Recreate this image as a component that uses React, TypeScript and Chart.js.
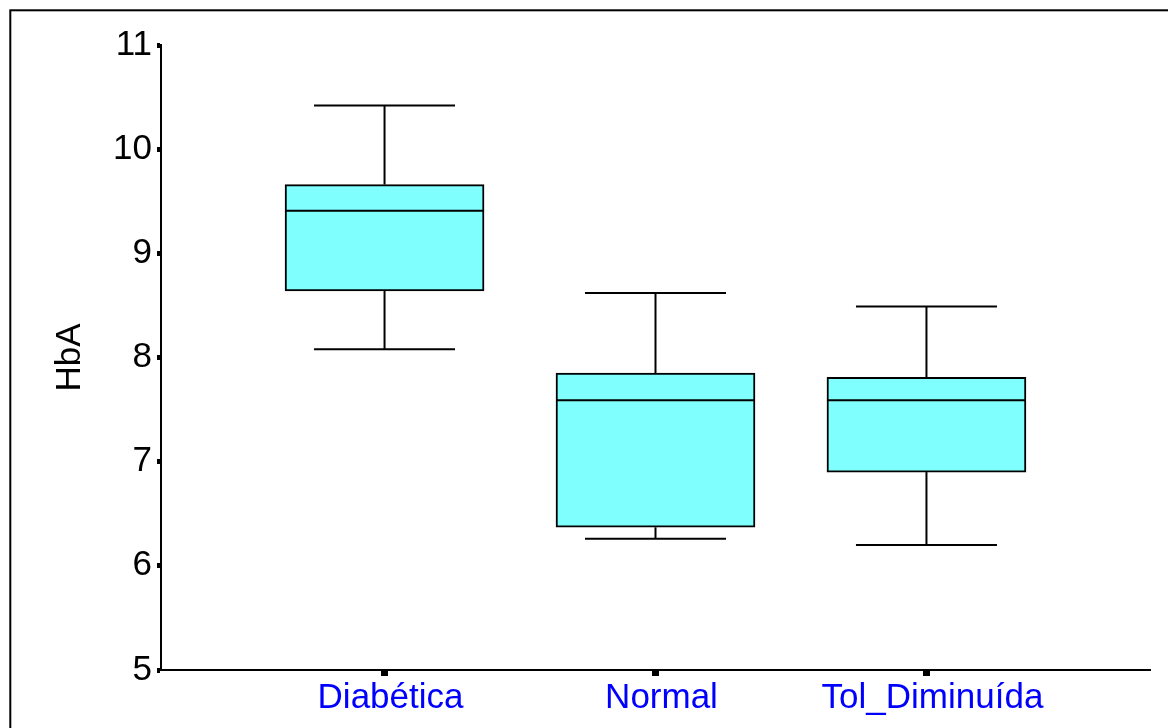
import React, { useEffect, useRef } from "react";
import { Chart, registerables } from "chart.js";

Chart.register(...registerables);

// ---- Data ----
const categories = ["Diabética", "Normal", "Tol_Diminuída"];
const positions = [1, 2, 3];
const whiskerLow = [8.08, 6.26, 6.2];
const q1 = [8.64, 6.37, 6.9];
const median = [9.41, 7.59, 7.59];
const q3 = [9.66, 7.85, 7.81];
const whiskerHigh = [10.42, 8.62, 8.49];
const yMin = 5;
const yMax = 11;
const yTitle = "HbA";

// ---- Styles ----
const FONT = "'Liberation Sans', Arial, Helvetica, sans-serif";
const FONT_SIZE = 35;
const BOX_FILL = "#80FFFF";
const BOX_WIDTH = 199;
const CAP_HALF = 70.5;

const boxExtras = {
  id: "boxExtras",
  beforeDraw(chart: any) {
    const { ctx, width, height } = chart;
    ctx.save();
    ctx.fillStyle = "#ffffff";
    ctx.fillRect(0, 0, width, height);
    ctx.strokeStyle = "#000000";
    ctx.lineWidth = 2;
    ctx.strokeRect(10.3, 10.3, width + 100, height + 100);
    ctx.restore();
  },
  afterDatasetsDraw(chart: any) {
    const { ctx } = chart;
    const x = chart.scales.x;
    const y = chart.scales.y;
    ctx.save();
    ctx.strokeStyle = "#000000";
    ctx.lineWidth = 2;
    const line = (x1: number, y1: number, x2: number, y2: number) => {
      ctx.beginPath();
      ctx.moveTo(x1, y1);
      ctx.lineTo(x2, y2);
      ctx.stroke();
    };
    positions.forEach((p, i) => {
      const cx = x.getPixelForValue(p);
      const yh = y.getPixelForValue(whiskerHigh[i]);
      const y3 = y.getPixelForValue(q3[i]);
      const ym = y.getPixelForValue(median[i]);
      const y1 = y.getPixelForValue(q1[i]);
      const yl = y.getPixelForValue(whiskerLow[i]);
      line(cx, yh, cx, y3);
      line(cx - CAP_HALF, yh, cx + CAP_HALF, yh);
      line(cx, y1, cx, yl);
      line(cx - CAP_HALF, yl, cx + CAP_HALF, yl);
      line(cx - BOX_WIDTH / 2, ym, cx + BOX_WIDTH / 2, ym);
    });
    ctx.restore();
  },
};

export default function App() {
  const canvasRef = useRef<HTMLCanvasElement | null>(null);

  useEffect(() => {
    const canvas = canvasRef.current;
    if (!canvas) return;
    Chart.defaults.font.family = FONT;
    const chart = new Chart(canvas, {
      type: "bar",
      data: {
        datasets: [
          {
            label: "HbA",
            data: positions.map((p, i) => ({ x: p, y: [q1[i], q3[i]] })) as any,
            backgroundColor: BOX_FILL,
            borderColor: "#000000",
            borderWidth: 2,
            borderSkipped: false,
            barThickness: BOX_WIDTH,
          },
        ],
      },
      options: {
        animation: false,
        responsive: false,
        devicePixelRatio: 1,
        layout: { padding: { left: 0, right: 18, top: 45, bottom: 0 } },
        plugins: {
          legend: { display: false },
          tooltip: { enabled: false },
          title: { display: false },
        },
        scales: {
          x: {
            type: "linear",
            min: 0.175,
            max: 3.825,
            offset: false,
            afterFit: (s: any) => {
              s.height = 58;
            },
            afterBuildTicks: (s: any) => {
              s.ticks = positions.map((v) => ({ value: v }));
            },
            grid: {
              display: true,
              offset: false,
              drawOnChartArea: false,
              drawTicks: true,
              tickLength: 6,
              tickWidth: 7,
              tickColor: "#000000",
            },
            border: { display: true, color: "#000000", width: 2 },
            ticks: {
              autoSkip: false,
              maxRotation: 0,
              minRotation: 0,
              padding: 1,
              labelOffset: 6,
              color: "#0000FF",
              font: { size: FONT_SIZE, family: FONT },
              callback: (_v: any, index: number) => categories[index],
            },
          },
          y: {
            type: "linear",
            min: yMin,
            max: yMax,
            afterFit: (s: any) => {
              s.width = 161;
            },
            grid: {
              display: true,
              drawOnChartArea: false,
              drawTicks: true,
              tickLength: 4,
              tickWidth: 5,
              tickColor: "#000000",
            },
            border: { display: true, color: "#000000", width: 2 },
            ticks: {
              stepSize: 1,
              padding: 5,
              color: "#000000",
              font: { size: FONT_SIZE, family: FONT },
            },
            title: {
              display: true,
              text: yTitle,
              color: "#000000",
              font: { size: FONT_SIZE, family: FONT },
              padding: { top: 49, bottom: 0 },
            },
          },
        },
      },
      plugins: [boxExtras],
    });
    return () => chart.destroy();
  }, []);

  return (
    <div style={{ position: "fixed", left: 0, top: 0, width: 1168, height: 728, background: "#fff" }}>
      <canvas ref={canvasRef} width={1168} height={728} style={{ display: "block" }} />
    </div>
  );
}
